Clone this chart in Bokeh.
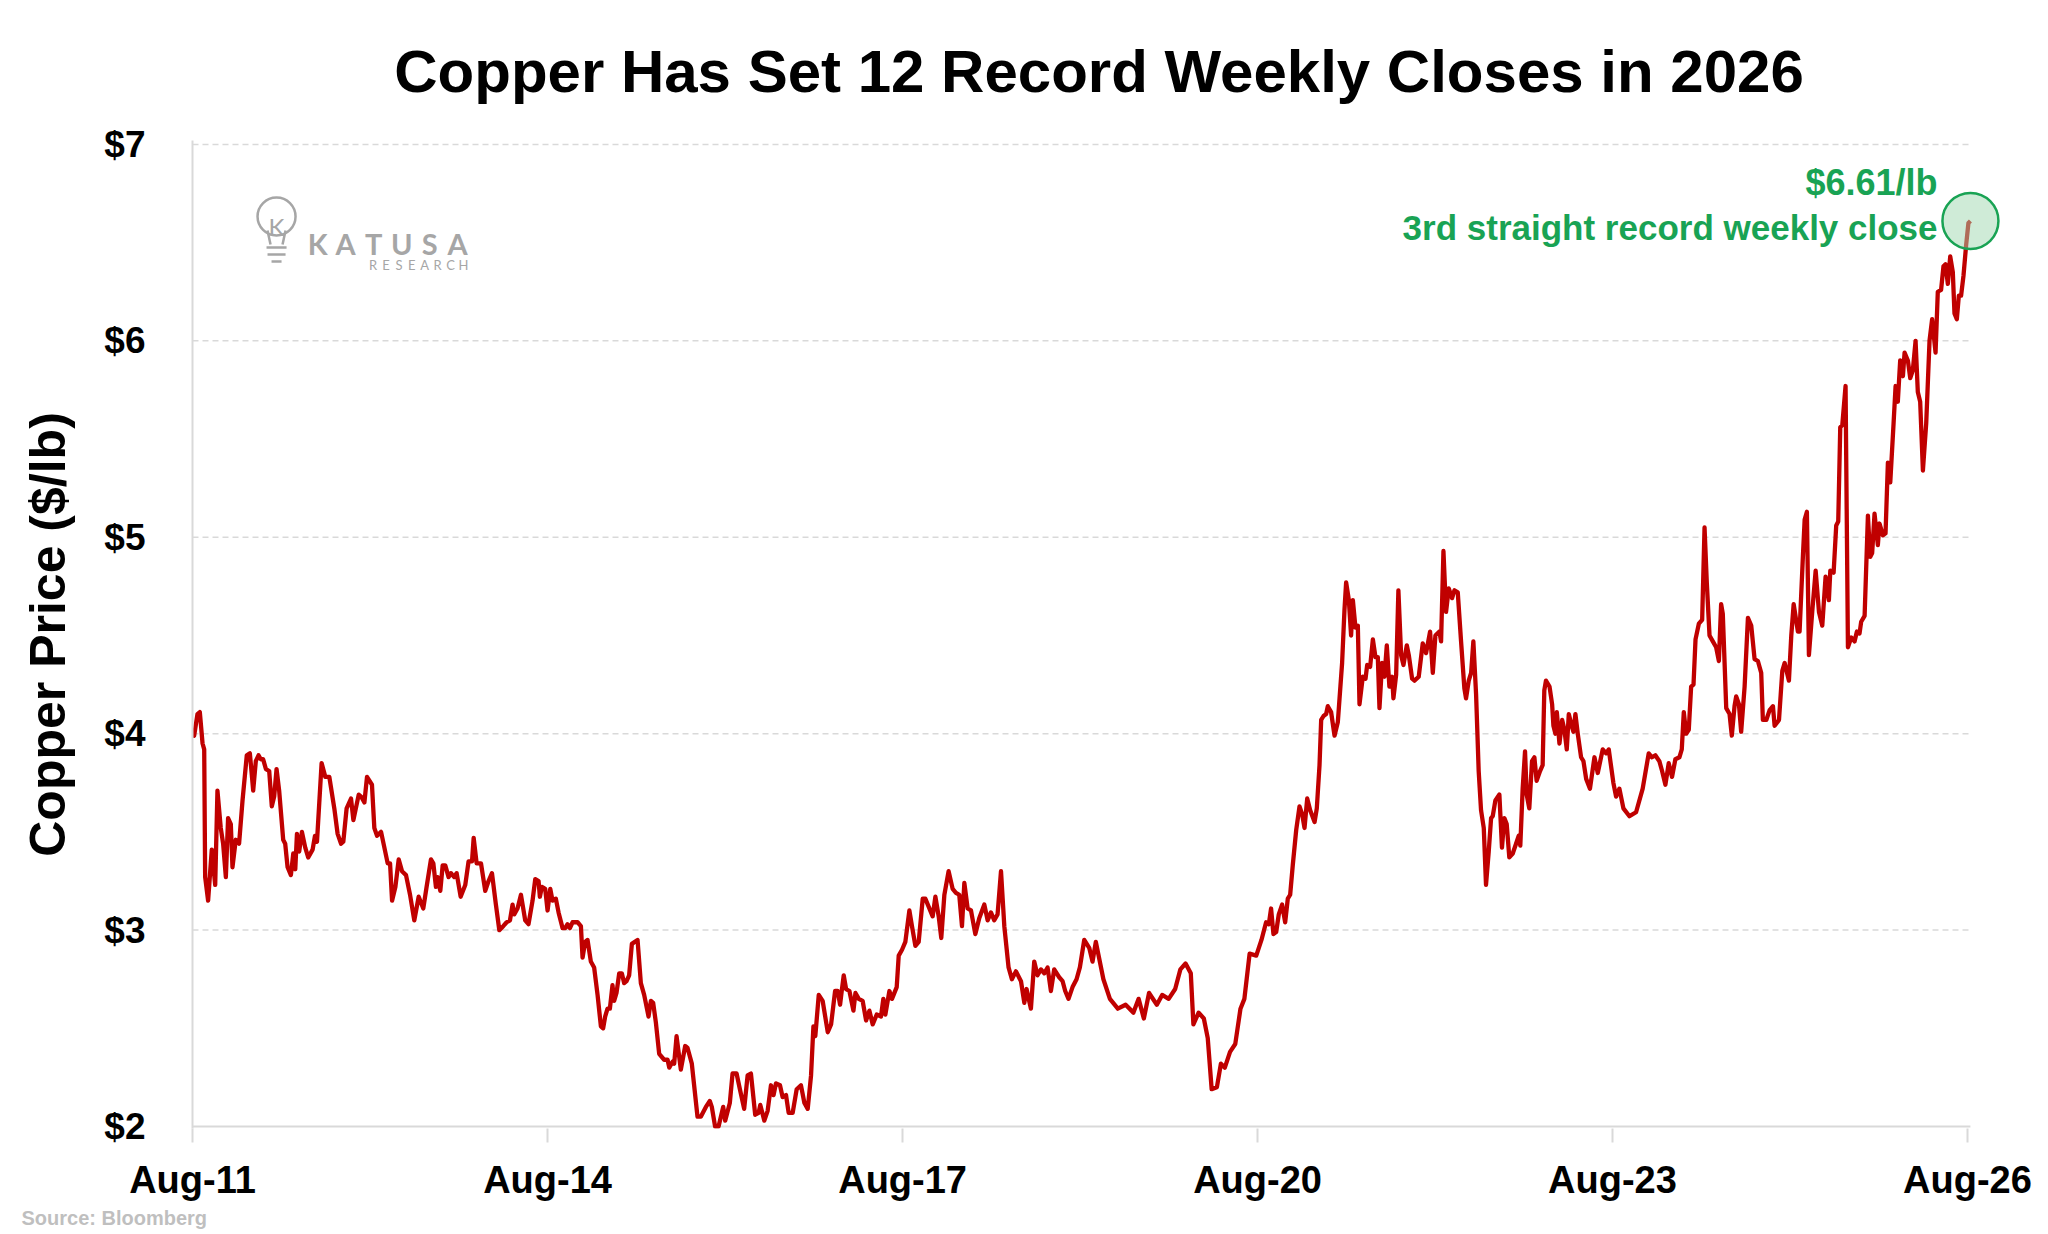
import math
import pandas as pd
from bokeh.plotting import figure
from bokeh.models import Range1d, FixedTicker, Label, NumeralTickFormatter, DatetimeTickFormatter, Title
from bokeh.core.properties import value
from bokeh.embed import file_html
from bokeh.resources import INLINE

# ---------------- data (decimal year, $/lb weekly close) ----------------
t_2011_2015 = [
    2011.600, 2011.614, 2011.642, 2011.662, 2011.685, 2011.699, 2011.707, 2011.732, 2011.763, 2011.792,
    2011.811, 2011.839, 2011.859, 2011.882, 2011.901, 2011.924, 2011.938, 2011.966, 2011.994, 2012.023,
    2012.059, 2012.085, 2012.113, 2012.135, 2012.158, 2012.177, 2012.197, 2012.220, 2012.248, 2012.270,
    2012.290, 2012.310, 2012.332, 2012.366, 2012.383, 2012.403, 2012.431, 2012.451, 2012.468, 2012.482,
    2012.501, 2012.524, 2012.552, 2012.577, 2012.614, 2012.634, 2012.651, 2012.690, 2012.721, 2012.755,
    2012.797, 2012.825, 2012.854, 2012.873, 2012.901, 2012.938, 2012.958, 2013.003, 2013.023, 2013.051,
    2013.073, 2013.115, 2013.135, 2013.158, 2013.192, 2013.220, 2013.248, 2013.268, 2013.285, 2013.313,
    2013.341, 2013.369, 2013.403, 2013.437, 2013.473, 2013.510, 2013.549, 2013.577, 2013.614, 2013.634,
    2013.656, 2013.670, 2013.693, 2013.713, 2013.735, 2013.763, 2013.783, 2013.811, 2013.831, 2013.865,
    2013.904, 2013.932, 2013.961, 2013.975, 2014.000, 2014.037, 2014.073, 2014.101, 2014.130, 2014.163,
    2014.192, 2014.225, 2014.254, 2014.282, 2014.304, 2014.318, 2014.346, 2014.375, 2014.411, 2014.439,
    2014.473, 2014.496, 2014.524, 2014.535, 2014.552, 2014.580, 2014.600, 2014.623, 2014.642, 2014.670,
    2014.693, 2014.727, 2014.749, 2014.769, 2014.789, 2014.811, 2014.854, 2014.882, 2014.896, 2014.918,
    2014.938, 2014.966, 2014.994, 2015.023, 2015.051, 2015.070, 2015.087, 2015.107, 2015.127, 2015.149,
    2015.163, 2015.183, 2015.206, 2015.228, 2015.248, 2015.268, 2015.290, 2015.313,
]
p_2011_2015 = [
    4.01, 3.99, 4.10, 4.11, 3.95, 3.92, 3.27, 3.15, 3.41, 3.23,
    3.71, 3.52, 3.44, 3.27, 3.57, 3.54, 3.32, 3.46, 3.44, 3.66,
    3.89, 3.90, 3.71, 3.86, 3.89, 3.87, 3.87, 3.82, 3.81, 3.63,
    3.68, 3.82, 3.71, 3.46, 3.44, 3.32, 3.28, 3.39, 3.31, 3.49,
    3.40, 3.50, 3.42, 3.37, 3.41, 3.48, 3.45, 3.85, 3.78, 3.78,
    3.62, 3.49, 3.44, 3.45, 3.62, 3.67, 3.56, 3.69, 3.68, 3.65,
    3.78, 3.74, 3.52, 3.48, 3.50, 3.42, 3.34, 3.34, 3.15, 3.22,
    3.36, 3.30, 3.28, 3.18, 3.05, 3.17, 3.11, 3.22, 3.36, 3.34,
    3.22, 3.27, 3.20, 3.33, 3.33, 3.27, 3.29, 3.27, 3.29, 3.17,
    3.23, 3.35, 3.35, 3.47, 3.34, 3.34, 3.20, 3.25, 3.29, 3.13,
    3.00, 3.02, 3.04, 3.05, 3.13, 3.08, 3.11, 3.18, 3.05, 3.03,
    3.15, 3.26, 3.25, 3.17, 3.22, 3.21, 3.10, 3.21, 3.15, 3.16,
    3.09, 3.01, 3.01, 3.03, 3.01, 3.04, 3.04, 3.02, 2.86, 2.94,
    2.95, 2.84, 2.81, 2.67, 2.51, 2.50, 2.56, 2.60, 2.60, 2.72,
    2.64, 2.68, 2.78, 2.78, 2.73, 2.74, 2.77, 2.93,
]

t_2015_2019 = [
    2015.361, 2015.389, 2015.417, 2015.454, 2015.474, 2015.493, 2015.516, 2015.544, 2015.586, 2015.615,
    2015.629, 2015.657, 2015.671, 2015.691, 2015.727, 2015.764, 2015.784, 2015.820, 2015.868, 2015.896,
    2015.939, 2015.972, 2015.989, 2016.017, 2016.046, 2016.085, 2016.102, 2016.141, 2016.164, 2016.198,
    2016.226, 2016.262, 2016.291, 2016.319, 2016.355, 2016.384, 2016.398, 2016.432, 2016.460, 2016.488,
    2016.510, 2016.530, 2016.564, 2016.586, 2016.615, 2016.637, 2016.671, 2016.705, 2016.741, 2016.770,
    2016.798, 2016.826, 2016.846, 2016.862, 2016.891, 2016.924, 2016.967, 2016.995, 2017.029, 2017.051,
    2017.071, 2017.085, 2017.102, 2017.122, 2017.150, 2017.184, 2017.201, 2017.229, 2017.262, 2017.291,
    2017.319, 2017.347, 2017.381, 2017.417, 2017.437, 2017.454, 2017.488, 2017.510, 2017.550, 2017.567,
    2017.595, 2017.623, 2017.657, 2017.679, 2017.708, 2017.736, 2017.770, 2017.792, 2017.820, 2017.854,
    2017.877, 2017.905, 2017.927, 2017.953, 2017.989, 2018.023, 2018.051, 2018.079, 2018.102, 2018.122,
    2018.150, 2018.178, 2018.215, 2018.248, 2018.291, 2018.319, 2018.347, 2018.375, 2018.403, 2018.432,
    2018.460, 2018.496, 2018.524, 2018.558, 2018.601, 2018.629, 2018.648, 2018.685, 2018.713, 2018.741,
    2018.770, 2018.798, 2018.826, 2018.854, 2018.882, 2018.924, 2018.953, 2018.975, 2019.003, 2019.037,
    2019.071, 2019.099, 2019.136, 2019.178, 2019.206, 2019.234,
]
p_2015_2019 = [
    2.95, 2.73, 2.67, 2.56, 2.64, 2.63, 2.53, 2.37, 2.34, 2.34,
    2.30, 2.33, 2.32, 2.46, 2.29, 2.41, 2.40, 2.32, 2.05, 2.05,
    2.10, 2.13, 2.10, 2.00, 2.00, 2.10, 2.03, 2.12, 2.27, 2.27,
    2.19, 2.09, 2.26, 2.27, 2.06, 2.07, 2.11, 2.03, 2.08, 2.21,
    2.16, 2.22, 2.21, 2.15, 2.16, 2.07, 2.07, 2.19, 2.21, 2.12,
    2.09, 2.26, 2.51, 2.46, 2.67, 2.64, 2.48, 2.52, 2.69, 2.69,
    2.62, 2.69, 2.77, 2.70, 2.69, 2.59, 2.68, 2.65, 2.64, 2.54,
    2.59, 2.52, 2.57, 2.56, 2.65, 2.57, 2.69, 2.65, 2.71, 2.87,
    2.90, 2.94, 3.10, 3.02, 2.92, 2.94, 3.16, 3.16, 3.12, 3.07,
    3.17, 3.07, 2.96, 3.18, 3.30, 3.21, 3.19, 3.18, 3.02, 3.24,
    3.11, 3.10, 2.98, 3.06, 3.13, 3.05, 3.09, 3.05, 3.08, 3.30,
    3.02, 2.81, 2.75, 2.79, 2.74, 2.63, 2.70, 2.60, 2.84, 2.77,
    2.80, 2.78, 2.81, 2.69, 2.80, 2.76, 2.74, 2.69, 2.65, 2.71,
    2.75, 2.81, 2.95, 2.91, 2.84, 2.94,
]

t_2019_2020 = [
    2019.298, 2019.353, 2019.420, 2019.486, 2019.552, 2019.596, 2019.640, 2019.684, 2019.750, 2019.795,
    2019.850, 2019.905, 2019.949, 2019.993, 2020.037, 2020.059, 2020.103, 2020.147, 2020.180, 2020.213,
    2020.257, 2020.291, 2020.324, 2020.368, 2020.412, 2020.456, 2020.489, 2020.533, 2020.589, 2020.633,
]
p_2019_2020 = [
    2.75, 2.65, 2.60, 2.62, 2.58, 2.65, 2.55, 2.68, 2.62, 2.67,
    2.65, 2.70, 2.80, 2.83, 2.78, 2.52, 2.58, 2.55, 2.45, 2.19,
    2.20, 2.32, 2.30, 2.38, 2.42, 2.60, 2.65, 2.88, 2.87, 2.95,
]

t_2020_2023 = [
    2020.672, 2020.695, 2020.714, 2020.734, 2020.757, 2020.779, 2020.807, 2020.833, 2020.855, 2020.875,
    2020.897, 2020.926, 2020.954, 2020.976, 2020.996, 2021.019, 2021.044, 2021.081, 2021.100, 2021.123,
    2021.137, 2021.157, 2021.179, 2021.193, 2021.221, 2021.250, 2021.278, 2021.314, 2021.334, 2021.348,
    2021.371, 2021.390, 2021.405, 2021.427, 2021.447, 2021.461, 2021.489, 2021.512, 2021.526, 2021.551,
    2021.574, 2021.596, 2021.616, 2021.630, 2021.652, 2021.672, 2021.692, 2021.714, 2021.737, 2021.748,
    2021.771, 2021.790, 2021.813, 2021.833, 2021.861, 2021.878, 2021.906, 2021.926, 2021.962, 2021.996,
    2022.024, 2022.058, 2022.081, 2022.103, 2022.137, 2022.151, 2022.171, 2022.193, 2022.216, 2022.244,
    2022.264, 2022.292, 2022.320, 2022.348, 2022.362, 2022.385, 2022.405, 2022.424, 2022.447, 2022.469,
    2022.489, 2022.512, 2022.531, 2022.554, 2022.574, 2022.588, 2022.610, 2022.644, 2022.666, 2022.686,
    2022.706, 2022.728, 2022.757, 2022.785, 2022.807, 2022.821, 2022.841, 2022.861, 2022.875, 2022.897,
    2022.920, 2022.940, 2022.959, 2022.988, 2023.010, 2023.024, 2023.038,
]
p_2020_2023 = [
    3.04, 3.03, 3.11, 2.98, 2.99, 3.08, 3.13, 3.04, 3.16, 3.18,
    3.33, 3.51, 3.63, 3.59, 3.52, 3.67, 3.61, 3.55, 3.62, 3.84,
    4.07, 4.09, 4.10, 4.14, 4.11, 3.99, 4.06, 4.36, 4.63, 4.77,
    4.68, 4.50, 4.68, 4.54, 4.55, 4.15, 4.29, 4.28, 4.35, 4.34,
    4.48, 4.39, 4.39, 4.13, 4.36, 4.29, 4.45, 4.24, 4.29, 4.18,
    4.30, 4.73, 4.40, 4.35, 4.45, 4.40, 4.28, 4.27, 4.29, 4.46,
    4.41, 4.52, 4.31, 4.50, 4.52, 4.47, 4.93, 4.62, 4.74, 4.69,
    4.73, 4.72, 4.47, 4.23, 4.18, 4.27, 4.31, 4.47, 4.20, 3.81,
    3.61, 3.52, 3.23, 3.40, 3.57, 3.58, 3.66, 3.69, 3.42, 3.57,
    3.54, 3.37, 3.39, 3.44, 3.48, 3.43, 3.72, 3.91, 3.69, 3.62,
    3.86, 3.88, 3.76, 3.81, 3.84, 4.22, 4.27,
]

t_2023_2026 = [
    2023.068, 2023.090, 2023.101, 2023.118, 2023.130, 2023.152, 2023.175, 2023.194, 2023.214, 2023.231,
    2023.251, 2023.270, 2023.287, 2023.307, 2023.335, 2023.355, 2023.378, 2023.410, 2023.448, 2023.476,
    2023.518, 2023.547, 2023.569, 2023.608, 2023.631, 2023.659, 2023.693, 2023.744, 2023.800, 2023.856,
    2023.907, 2023.935, 2023.963, 2023.997, 2024.020, 2024.048, 2024.076, 2024.104, 2024.132, 2024.166,
    2024.186, 2024.203, 2024.223, 2024.245, 2024.265, 2024.285, 2024.302, 2024.330, 2024.358, 2024.378,
    2024.397, 2024.420, 2024.448, 2024.476, 2024.499, 2024.518, 2024.532, 2024.561, 2024.589, 2024.608,
    2024.631, 2024.645, 2024.668, 2024.687, 2024.716, 2024.744, 2024.772, 2024.800, 2024.828, 2024.856,
    2024.870, 2024.899, 2024.927, 2024.955, 2024.969, 2025.006, 2025.034, 2025.054, 2025.090, 2025.110,
    2025.130, 2025.166, 2025.180, 2025.208, 2025.223, 2025.242, 2025.259, 2025.287, 2025.316, 2025.344,
    2025.372, 2025.400, 2025.428, 2025.440, 2025.468, 2025.490, 2025.507, 2025.524, 2025.541, 2025.569,
    2025.589, 2025.617, 2025.645, 2025.665, 2025.687, 2025.701, 2025.730, 2025.758, 2025.777, 2025.794,
    2025.814, 2025.842, 2025.856, 2025.885, 2025.907, 2025.927, 2025.947, 2025.975, 2025.992, 2026.011,
    2026.031, 2026.054, 2026.068, 2026.096, 2026.116, 2026.138, 2026.161, 2026.180, 2026.200, 2026.223,
    2026.251, 2026.279, 2026.301, 2026.330, 2026.349, 2026.377, 2026.397, 2026.414, 2026.434, 2026.454,
    2026.476, 2026.490, 2026.510, 2026.527, 2026.546, 2026.566, 2026.589, 2026.608, 2026.625,
]
p_2023_2026 = [
    4.24, 4.15, 4.04, 4.00, 4.11, 3.95, 4.07, 4.02, 3.92, 4.10,
    4.05, 4.01, 4.10, 4.00, 3.88, 3.86, 3.77, 3.72, 3.88, 3.80,
    3.92, 3.90, 3.92, 3.75, 3.68, 3.72, 3.62, 3.58, 3.60, 3.72,
    3.90, 3.88, 3.89, 3.86, 3.81, 3.74, 3.85, 3.78, 3.87, 3.88,
    3.92, 4.11, 4.00, 4.02, 4.24, 4.25, 4.48, 4.56, 4.58, 5.05,
    4.77, 4.50, 4.47, 4.44, 4.37, 4.66, 4.61, 4.13, 4.10, 3.99,
    4.14, 4.19, 4.15, 4.01, 4.24, 4.59, 4.55, 4.38, 4.37, 4.31,
    4.07, 4.07, 4.12, 4.14, 4.04, 4.07, 4.32, 4.36, 4.27, 4.50,
    4.66, 4.52, 4.52, 4.90, 5.09, 5.13, 4.40, 4.62, 4.83, 4.62,
    4.55, 4.80, 4.68, 4.83, 4.82, 5.06, 5.08, 5.56, 5.57, 5.77,
    4.44, 4.49, 4.47, 4.52, 4.51, 4.57, 4.60, 5.11, 4.90, 4.92,
    5.12, 4.96, 5.07, 5.01, 5.02, 5.38, 5.28, 5.58, 5.77, 5.69,
    5.90, 5.82, 5.94, 5.90, 5.81, 5.85, 6.00, 5.74, 5.69, 5.34,
    5.58, 6.00, 6.11, 5.94, 6.25, 6.26, 6.38, 6.39, 6.29, 6.43,
    6.35, 6.14, 6.11, 6.23, 6.23, 6.33, 6.49, 6.60, 6.61,
]

x_tick_years = [2011.6, 2014.6, 2017.6, 2020.6, 2023.6, 2026.6]   # shown as Aug-11 ... Aug-26
y_ticks = [2, 3, 4, 5, 6, 7]
grid_levels = [3, 4, 5, 6, 7]

title_text = "Copper Has Set 12 Record Weekly Closes in 2026"
y_label_text = "Copper Price ($/lb)"
note_price = "$6.61/lb"
note_text = "3rd straight record weekly close"
source_text = "Source: Bloomberg"
logo_word = "KATUSA"
logo_sub = "RESEARCH"

# ---------------- helpers ----------------
def dec2ms(t):
    y = int(math.floor(t))
    frac = t - y
    a = pd.Timestamp(year=y, month=1, day=1)
    b = pd.Timestamp(year=y + 1, month=1, day=1)
    return (a + (b - a) * frac).value / 1e6

t_all = t_2011_2015 + t_2015_2019 + t_2019_2020 + t_2020_2023 + t_2023_2026
p_all = p_2011_2015 + p_2015_2019 + p_2019_2020 + p_2020_2023 + p_2023_2026
n = min(len(t_all), len(p_all))
t_all, p_all = t_all[:n], p_all[:n]
x_all = [dec2ms(t) for t in t_all]

W, H = 2048, 1234
FL, FR, FT, FB = 192, 2005, 140, 1128
XD0 = 2011.6
XD1 = XD0 + (FR - FL) / 118.33
Y0, Y1 = 1.99, 7.02

def X(px):
    return dec2ms(XD0 + (px - FL) / (FR - FL) * (XD1 - XD0))

def Y(py):
    return Y1 - (py - FT) / (FB - FT) * (Y1 - Y0)

FONT = "Liberation Sans"
GREEN = "#19a354"
GREY = "#d9d9d9"

p = figure(width=W, height=H, x_axis_type="datetime", output_backend="svg", toolbar_location=None,
           x_range=Range1d(dec2ms(XD0), dec2ms(XD1)), y_range=Range1d(Y0, Y1),
           min_border_left=FL, min_border_right=W - FR, min_border_top=FT, min_border_bottom=H - FB)
p.outline_line_color = None
p.background_fill_color = "white"
p.border_fill_color = "white"
p.xgrid.visible = False
p.ygrid.visible = False

# title
p.title.text = title_text
p.title.align = "center"
p.title.text_font = FONT
p.title.text_font_size = "60px"
p.title.text_font_style = "bold"
p.title.text_color = "black"
p.title.standoff = 71

# x axis
xa = p.xaxis[0]
xa.ticker = FixedTicker(ticks=[dec2ms(t) for t in x_tick_years])
fmt = "%b-%y"
xa.formatter = DatetimeTickFormatter(microseconds=fmt, milliseconds=fmt, seconds=fmt, minsec=fmt,
                                     minutes=fmt, hourmin=fmt, hours=fmt, days=fmt, months=fmt, years=fmt)
xa.axis_line_color = None
xa.major_tick_line_color = GREY
xa.major_tick_line_width = 2
xa.major_tick_out = 14
xa.major_tick_in = 0
xa.minor_tick_line_color = None
xa.major_label_text_font = FONT
xa.major_label_text_font_size = "38px"
xa.major_label_text_font_style = "bold"
xa.major_label_text_color = "black"
xa.major_label_standoff = 16

# y axis
ya = p.yaxis[0]
ya.ticker = FixedTicker(ticks=y_ticks)
ya.formatter = NumeralTickFormatter(format="$0")
ya.axis_line_color = GREY
ya.axis_line_width = 2
ya.major_tick_line_color = None
ya.minor_tick_line_color = None
ya.major_label_text_font = FONT
ya.major_label_text_font_size = "37px"
ya.major_label_text_font_style = "bold"
ya.major_label_text_color = "black"
ya.major_label_standoff = 41
ya.axis_label = y_label_text
ya.axis_label_text_font = FONT
ya.axis_label_text_font_size = "50px"
ya.axis_label_text_font_style = "bold"
ya.axis_label_text_color = "black"
ya.axis_label_standoff = 25

# source note below the axis
p.add_layout(Title(text=source_text, align="left", text_font=FONT, text_font_size="20px",
                   text_font_style="bold", text_color="#bfbfbf", standoff=2, offset=-171), "below")

x_first, x_last = dec2ms(x_tick_years[0]), x_all[-1]

# dashed gridlines and baseline
p.segment(x0=[x_first] * len(grid_levels), y0=grid_levels, x1=[x_last] * len(grid_levels), y1=grid_levels,
          line_color=GREY, line_width=1.5, line_dash="6 4")
p.segment(x0=[x_first], y0=[y_ticks[0]], x1=[x_last], y1=[y_ticks[0]], line_color=GREY, line_width=2)

# price line
p.line(x=x_all, y=p_all, line_color="#c00000", line_width=4.3, line_join="round")

# highlight circle
p.scatter(x=[x_all[-1]], y=[p_all[-1]], size=56, marker="circle", fill_color="#9fd8b0", fill_alpha=0.5,
          line_color=GREEN, line_width=2.5)

def add_label(px, py, text, size, color="black", align="left", style="bold", font=FONT,
              baseline="alphabetic"):
    p.add_layout(Label(x=X(px), y=Y(py), text=text, text_font=font, text_font_size=size,
                       text_font_style=style, text_color=color, text_align=align,
                       text_baseline=baseline))

add_label(1937, 182, note_price, "36px", color=GREEN, align="right")
add_label(1937, 227, note_text, "35px", color=GREEN, align="right")

# logo
LOGO = "#a6a6a6"
p.scatter(x=[X(276)], y=[Y(216)], size=38, marker="circle", fill_color=None, line_color=LOGO, line_width=2.5)
p.segment(x0=[X(267), X(285), X(266), X(267), X(271)], y0=[Y(230), Y(230), Y(247), Y(254), Y(261)],
          x1=[X(270), X(282), X(286), X(285), X(281)], y1=[Y(244), Y(244), Y(247), Y(254), Y(261)],
          line_color=LOGO, line_width=2.5)
add_label(276, 226, "K", "24px", color=LOGO, align="center", style="normal", font="Lato")
p.text(x=[X(317 + 28 * k) for k in range(len(logo_word))], y=[Y(243)] * len(logo_word), text=list(logo_word),
       text_font=value("Lato"), text_font_size="29px", text_font_style="bold", text_color=LOGO,
       text_align="center", text_baseline="alphabetic")
p.text(x=[X(372.5 + 12.9 * k) for k in range(len(logo_sub))], y=[Y(264)] * len(logo_sub), text=list(logo_sub),
       text_font=value("Lato"), text_font_size="13px", text_color=LOGO,
       text_align="center", text_baseline="alphabetic")

open("out.html", "w").write(file_html(p, INLINE))
